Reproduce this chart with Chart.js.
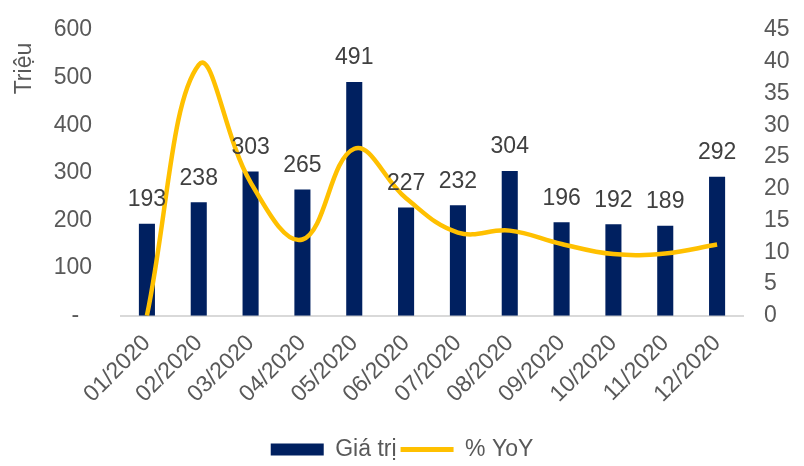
<!DOCTYPE html>
<html>
<head>
<meta charset="utf-8">
<script src="https://cdn.jsdelivr.net/npm/chart.js@4.4.1/dist/chart.umd.min.js"></script>
<style>
    html, body { margin: 0; padding: 0; background: #fff; }
    canvas { display: block; }
</style>
</head>
<body>
<canvas id="chart" width="804" height="466"></canvas>
<script>
// data
const months = ['01/2020', '02/2020', '03/2020', '04/2020', '05/2020', '06/2020',
                '07/2020', '08/2020', '09/2020', '10/2020', '11/2020', '12/2020'];
const giaTri = [193, 238, 303, 265, 491, 227, 232, 304, 196, 192, 189, 292];
const yoy = [0, 39.5, 21, 12, 26.3, 18.5, 13.1, 13.4, 11.3, 9.7, 9.8, 11.2];
const leftMax = 600, leftStep = 100;
const rightMax = 45, rightStep = 5;

const FONT = 'Liberation Sans, Arial, sans-serif';
const tickColor = '#595959';

// bar value labels drawn above each bar
const barLabels = {
    id: 'barLabels',
    afterDatasetsDraw(chart) {
        const ctx = chart.ctx;
        const meta = chart.getDatasetMeta(1);
        ctx.save();
        ctx.font = '23px ' + FONT;
        ctx.fillStyle = '#404040';
        ctx.textAlign = 'center';
        ctx.textBaseline = 'middle';
        meta.data.forEach((bar, i) => {
            ctx.fillText(String(giaTri[i]), bar.x, bar.y - 24);
        });
        ctx.restore();
    }
};

// tick padding also pads the top of a vertical axis; undo that
function fixVertical(width) {
    return function (scale) {
        scale.width = width;
        scale.paddingTop = 14;
        scale.paddingBottom = 14;
    };
}

new Chart(document.getElementById('chart'), {
    type: 'bar',
    data: {
        labels: months,
        datasets: [
            {
                type: 'line',
                label: '% YoY',
                data: yoy,
                yAxisID: 'y1',
                borderColor: '#FFC000',
                backgroundColor: '#FFC000',
                borderWidth: 4.5,
                pointRadius: 0,
                tension: 0.4,
                order: 0
            },
            {
                type: 'bar',
                label: 'Giá trị',
                data: giaTri,
                yAxisID: 'y',
                backgroundColor: '#002060',
                borderWidth: 0,
                barPercentage: 0.31,
                categoryPercentage: 1,
                order: 1
            }
        ]
    },
    options: {
        responsive: false,
        animation: false,
        layout: { padding: { top: 30, left: 0, right: 0, bottom: -5 } },
        plugins: {
            tooltip: { enabled: false },
            legend: {
                position: 'bottom',
                reverse: true,
                labels: {
                    font: { family: FONT, size: 23 },
                    color: tickColor,
                    usePointStyle: true,
                    pointStyleWidth: 53,
                    boxHeight: 12,
                    padding: 4,
                    generateLabels(chart) {
                        const items = Chart.defaults.plugins.legend.labels.generateLabels(chart);
                        items.forEach(it => {
                            const ds = chart.data.datasets[it.datasetIndex];
                            it.pointStyle = ds.type === 'line' ? 'line' : 'rect';
                            if (ds.type === 'line') it.lineWidth = 5;
                        });
                        return items;
                    }
                }
            }
        },
        scales: {
            x: {
                grid: { display: false, drawTicks: false },
                border: { display: true, color: '#D9D9D9', width: 2 },
                ticks: {
                    font: { family: FONT, size: 23 },
                    color: tickColor,
                    minRotation: 45,
                    maxRotation: 45,
                    padding: 14
                },
                afterFit(scale) { scale.height += 12; }
            },
            y: {
                position: 'left',
                min: 0,
                max: leftMax,
                grid: { display: false, drawTicks: false },
                border: { display: false },
                ticks: {
                    stepSize: leftStep,
                    autoSkip: false,
                    font: { family: FONT, size: 23 },
                    color: tickColor,
                    padding: 29,
                    callback: v => v === 0 ? '-  ' : v
                },
                title: {
                    display: true,
                    text: 'Triệu  ',
                    align: 'end',
                    font: { family: FONT, size: 23 },
                    color: tickColor,
                    padding: { top: 11, bottom: 0 }
                },
                afterFit: fixVertical(121)
            },
            y1: {
                position: 'right',
                min: 0,
                max: rightMax,
                grid: { display: false, drawTicks: false },
                border: { display: false },
                ticks: {
                    stepSize: rightStep,
                    autoSkip: false,
                    font: { family: FONT, size: 23 },
                    color: tickColor,
                    padding: 21
                },
                afterFit: fixVertical(61)
            }
        }
    },
    plugins: [barLabels]
});
</script>
</body>
</html>
